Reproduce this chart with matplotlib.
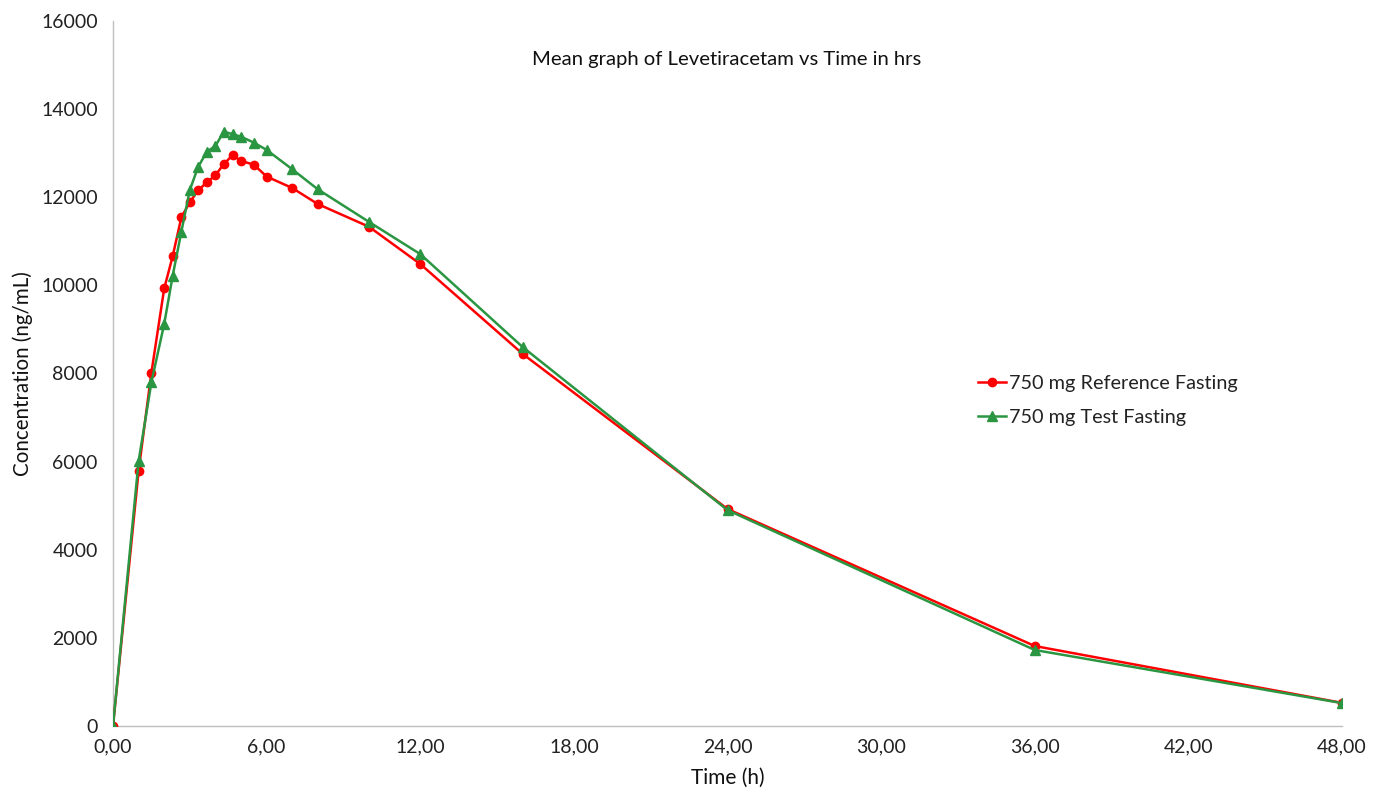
import matplotlib.pyplot as plt
from matplotlib.ticker import FuncFormatter

plt.rcParams['font.family'] = ['Lato', 'DejaVu Sans']

time_h = [0, 1, 1.5, 2, 2.33, 2.67, 3, 3.33, 3.67, 4, 4.33, 4.67, 5, 5.5, 6,
          7, 8, 10, 12, 16, 24, 36, 48]

# mean concentrations (ng/mL)
ref_fasting = [0, 5790, 8020, 9930, 10660, 11545, 11885, 12160, 12340, 12500,
               12755, 12955, 12825, 12740, 12470, 12210, 11845, 11330, 10485,
               8445, 4925, 1815, 525]
test_fasting = [0, 6010, 7800, 9125, 10215, 11220, 12165, 12695, 13035, 13165,
                13490, 13430, 13375, 13240, 13075, 12635, 12180, 11440, 10710,
                8600, 4900, 1725, 520]

fig = plt.figure(figsize=(13.73, 7.89), dpi=100)
ax = fig.add_axes([113/1373, 1 - 726/789, (1342-113)/1373, (726-21)/789])

ax.plot(time_h, ref_fasting, color="#ff0000", marker="o", markersize=6,
        linewidth=1.8, label="750 mg Reference Fasting", zorder=3)
ax.plot(time_h, test_fasting, color="#2a9642", marker="^", markersize=7,
        linewidth=1.8, label="750 mg Test Fasting", zorder=4)

ax.set_xlim(0, 48)
ax.set_ylim(0, 16000)
ax.set_xticks(range(0, 49, 6))
ax.set_yticks(range(0, 16001, 2000))
ax.xaxis.set_major_formatter(FuncFormatter(lambda v, p: f"{v:.2f}".replace(".", ",")))

for s in ["top", "right"]:
    ax.spines[s].set_visible(False)
for s in ["left", "bottom"]:
    ax.spines[s].set_color("#bfbfbf")
    ax.spines[s].set_linewidth(1.0)
ax.tick_params(axis="y", length=0, labelsize=14, colors="#222222", pad=11)
ax.tick_params(axis="x", length=0, labelsize=14, colors="#222222", pad=9)

ax.set_xlabel("Time (h)", fontsize=15, color="#111111", labelpad=9)
ax.set_ylabel("Concentration (ng/mL)", fontsize=14.8, color="#111111", labelpad=6)

fig.text(727/1373, 1 - 60/789, "Mean graph of Levetiracetam vs Time in hrs",
         ha="center", va="center", fontsize=14.6, color="#111111")

ax.legend(loc="upper left", bbox_to_anchor=(960/1373, 1 - 357/789),
          bbox_transform=fig.transFigure, frameon=False, fontsize=14.3,
          handlelength=1.4, handletextpad=0.15, labelspacing=0.85,
          labelcolor="#222222")

plt.savefig("out.png", dpi=100)
